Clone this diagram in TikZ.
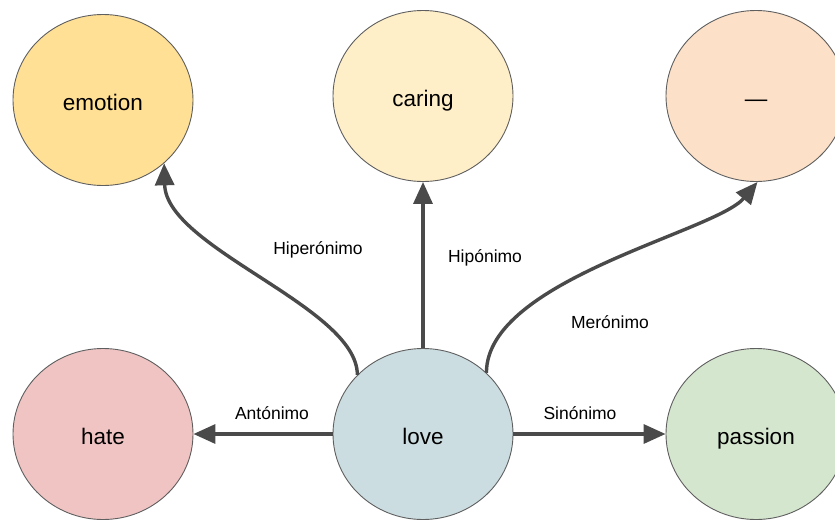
\documentclass[tikz,border=0pt]{standalone}
\usepackage{fontspec}
\setmainfont{Liberation Sans}
\usetikzlibrary{shapes.geometric,arrows.meta}
\definecolor{cEmotion}{HTML}{FFE095}
\definecolor{cCaring}{HTML}{FFEFC9}
\definecolor{cDash}{HTML}{FCE1C8}
\definecolor{cHate}{HTML}{F1C4C4}
\definecolor{cLove}{HTML}{CCDDE1}
\definecolor{cPassion}{HTML}{D5E6CF}
\definecolor{lineGray}{HTML}{5F5F5F}
\definecolor{arrowGray}{HTML}{4A4A4A}
\begin{document}
\begin{tikzpicture}[x=1pt,y=-1pt,
  circ/.style={ellipse, draw=lineGray, line width=0.9pt, minimum width=180pt, minimum height=171pt, inner sep=0pt, text height=20pt, text depth=0pt, font=\fontsize{22.5}{26}\selectfont},
  rel/.style={draw=arrowGray, line width=3.4pt, -{Triangle[length=22pt,width=19pt]}},
  lbl/.style={font=\fontsize{17.5}{20}\selectfont, inner sep=0pt}]
\useasboundingbox (0,0) rectangle (835,520);
\node[circ, fill=cEmotion] (emotion) at (103,100) {emotion};
\node[circ, fill=cCaring] (caring) at (423,96) {caring};
\node[circ, fill=cDash] (dash) at (756,96) {—};
\node[circ, fill=cHate] (hate) at (103,434) {hate};
\node[circ, fill=cLove] (love) at (423,434) {love};
\node[circ, fill=cPassion] (passion) at (756,434) {passion};

\draw[rel] (love.west) -- (hate.east);
\draw[rel] (love.east) -- (passion.west);
\draw[rel] (love.north) -- (caring.south);
\draw[rel] (love.138) .. controls +(0,-68) and +(2,85) .. (emotion.-46);
\draw[rel] (love.44) .. controls +(0,-93) and +(-42,50) .. (dash.-89);

\node[lbl] (lAnt) at (272,413) {Antónimo};
\node[lbl] (lSin) at (580,413) {Sinónimo};
\node[lbl] (lHipo) at (485,258) {Hipónimo};
\node[lbl] (lHiper) at (318,250) {Hiperónimo};
\node[lbl] (lMer) at (610,322) {Merónimo};
\end{tikzpicture}
\end{document}
